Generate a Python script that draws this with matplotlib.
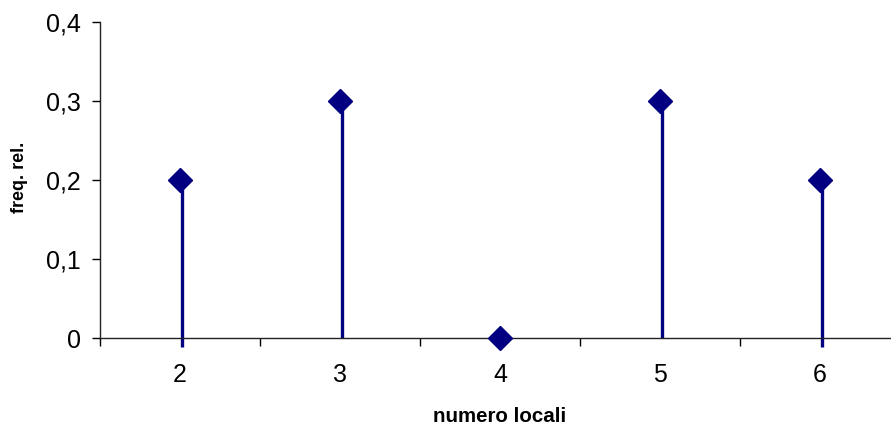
import matplotlib
matplotlib.use("Agg")
import matplotlib.pyplot as plt
from matplotlib.ticker import FixedLocator, FuncFormatter

# ----------------------------- Dati -----------------------------------------
numero_locali = [2, 3, 4, 5, 6]
freq_rel = [0.2, 0.3, 0.0, 0.3, 0.2]
stem_base = [-0.011, 0.0, 0.0, 0.0, -0.011]   # in the original some stems poke below the axis
y_ticks = [0, 0.1, 0.2, 0.3, 0.4]

NAVY = "#000080"

plt.rcParams.update({
    "font.family": ["Liberation Sans", "DejaVu Sans"],
})

fig = plt.figure(figsize=(8.91, 4.25), dpi=100)
ax = fig.add_axes([100 / 891, 87 / 425, 800 / 891, 316 / 425])

# stems (slightly right of the marker, as in the original)
off = 0.014
for x, y, b in zip(numero_locali, freq_rel, stem_base):
    if y > 0:
        ax.plot([x + off, x + off], [b, y], color=NAVY, lw=2.4, zorder=2,
                solid_capstyle="butt", clip_on=False)

ax.plot(numero_locali, freq_rel, linestyle="none", marker="D", markersize=12.2,
        color=NAVY, zorder=3, clip_on=False)

ax.set_xlim(1.5, 6.5)
ax.set_ylim(0, 0.4)

ax.xaxis.set_major_locator(FixedLocator([1.5 + i for i in range(6)]))
ax.xaxis.set_minor_locator(FixedLocator(numero_locali))
ax.xaxis.set_major_formatter(FuncFormatter(lambda v, p: ""))
ax.xaxis.set_minor_formatter(FuncFormatter(lambda v, p: f"{int(v)}"))
ax.tick_params(axis="x", which="major", length=6, width=1, direction="out")
ax.tick_params(axis="x", which="minor", length=0, labelsize=18, pad=18)

ax.set_yticks(y_ticks)
ax.set_yticklabels(["0" if v == 0 else f"{v:.1f}".replace(".", ",") for v in y_ticks])
ax.tick_params(axis="y", length=6, width=1, direction="out", labelsize=18, pad=8)

for s in ["top", "right"]:
    ax.spines[s].set_visible(False)
for s in ["left", "bottom"]:
    ax.spines[s].set_linewidth(1)
    ax.spines[s].set_color("#222222")

ax.set_xlabel("numero locali", fontsize=14.8, fontweight="bold")
ax.set_ylabel("freq. rel.", fontsize=13, fontweight="bold")
ax.xaxis.set_label_coords(500 / 891, 8 / 425, transform=fig.transFigure)
ax.yaxis.set_label_coords(20 / 891, (425 - 177) / 425, transform=fig.transFigure)
ax.xaxis.label.set_va("center")
ax.yaxis.label.set_va("center")

fig.savefig("out.png", dpi=100)
